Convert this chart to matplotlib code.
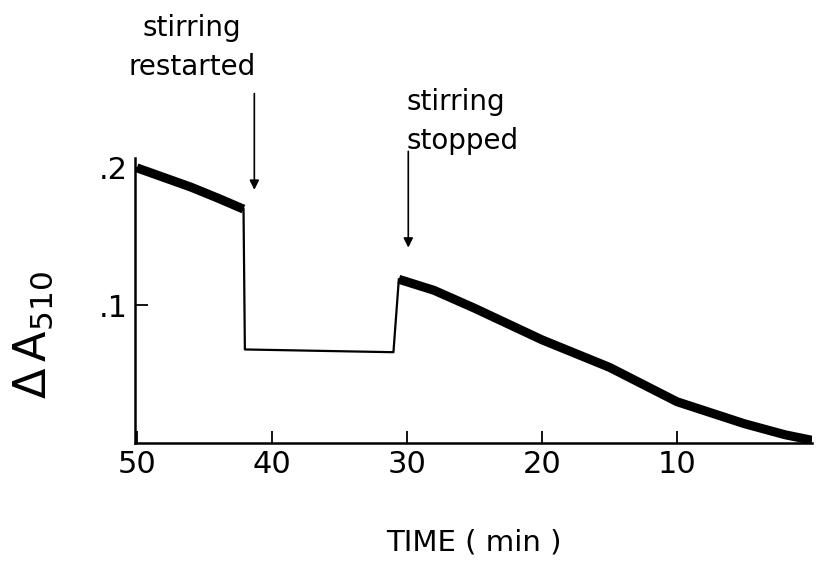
import matplotlib
matplotlib.use("Agg")
import matplotlib.pyplot as plt

# recorder trace, time counts down from left to right
before_time = [50.0, 48.0, 46.0, 44.0, 42.1]
before_abs = [0.200, 0.193, 0.186, 0.178, 0.170]

gap_time = [42.1, 42.0, 31.0, 30.6]
gap_abs = [0.170, 0.068, 0.066, 0.119]

after_time = [30.6, 28.0, 25.0, 20.0, 15.0, 10.0, 5.0, 2.0, 0.0]
after_abs = [0.119, 0.111, 0.098, 0.075, 0.055, 0.030, 0.014, 0.006, 0.002]

x_ticks = [50, 40, 30, 20, 10]
y_ticks = [0.1, 0.2]
y_tick_labels = [".1", ".2"]

plt.rcParams['font.family'] = ['DejaVu Sans']
plt.rcParams['mathtext.fontset'] = 'dejavusans'

fig = plt.figure(figsize=(8.17, 5.64), dpi=100)
ax = fig.add_axes([0.165, 0.2145, 0.829, 0.505])

ax.plot(before_time, before_abs, color="black", lw=6.5, solid_capstyle="butt")
ax.plot(gap_time, gap_abs, color="black", lw=1.6)
ax.plot(after_time, after_abs, color="black", lw=6.5, solid_capstyle="butt")

ax.set_xlim(50.15, 0)
ax.set_ylim(0, 0.207)

ax.spines['top'].set_visible(False)
ax.spines['right'].set_visible(False)
ax.spines['left'].set_linewidth(1.8)
ax.spines['bottom'].set_linewidth(1.8)

ax.set_xticks(x_ticks)
ax.set_yticks(y_ticks)
ax.set_yticklabels(y_tick_labels)
ax.tick_params(direction="in", length=9, width=1.3, labelsize=22, pad=5)

ax.set_xlabel("TIME ( min )", fontsize=21, labelpad=36)
ax.set_ylabel(r"$\Delta\,\mathrm{A}_{510}$", fontsize=32)
ax.yaxis.set_label_coords(-0.118, 0.38)

arrow_style = dict(arrowstyle="-|>", color="black", lw=1.2, mutation_scale=14)
ax.annotate("", xy=(41.3, 0.182), xytext=(41.3, 0.256),
            arrowprops=arrow_style, annotation_clip=False)
ax.text(45.9, 0.312, "stirring\nrestarted", ha="center", va="top",
        fontsize=20, linespacing=1.5, clip_on=False)

ax.annotate("", xy=(29.9, 0.140), xytext=(29.9, 0.214),
            arrowprops=arrow_style, annotation_clip=False)
ax.text(30.0, 0.258, "stirring\nstopped", ha="left", va="top",
        fontsize=20, linespacing=1.5, clip_on=False)

fig.savefig("out.png", dpi=100)
